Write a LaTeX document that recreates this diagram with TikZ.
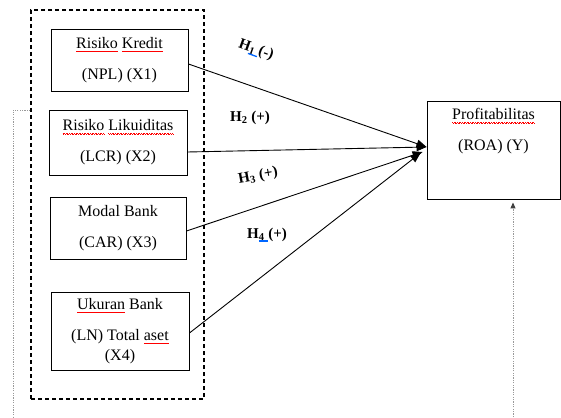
\documentclass[tikz,border=0pt]{standalone}
\usepackage{fontspec}
\setmainfont{Liberation Serif}
\usetikzlibrary{arrows.meta}
\newcommand\spellwave[1]{\setbox0\hbox{#1}\rlap{\copy0}\hbox to \wd0{\color{red}\xleaders\hbox{\rule[-3pt]{0.8pt}{0.5pt}\rule[-3.6pt]{0.8pt}{0.5pt}}\hfill}}
\newcommand\blueline[1]{\setbox0\hbox{#1}\rlap{\copy0}\textcolor{blue!60!cyan}{\rule[-3pt]{\wd0}{1.3pt}}}

\begin{document}
\begin{tikzpicture}[x=1pt,y=-1pt,
	box/.style={draw,line width=0.9pt,inner sep=0pt,align=center,font=\fontsize{16}{31}\selectfont},
	hyp/.style={font=\bfseries\fontsize{15}{18}\selectfont},
	hyparrow/.style={line width=0.9pt,-{Triangle[length=10pt,width=8pt]}},
	dotline/.style={gray!80,line width=1pt,dash pattern=on 1.2pt off 1.2pt}]
	\useasboundingbox (0,0) rectangle (561,417);
	\node[draw,line width=1.3pt,dash pattern=on 4pt off 3pt,minimum width=173pt,minimum height=389pt](grp) at (117.5,204.5){};
	\node[box,minimum width=137pt,minimum height=62pt](kredit) at (119.5,60){\spellwave{Risiko} \spellwave{Kredit}\\(NPL) (X1)};
	\node[box,minimum width=138pt,minimum height=65pt](likuid) at (118,142.5){\spellwave{Risiko} \spellwave{Likuiditas}\\(LCR) (X2)};
	\node[box,minimum width=136pt,minimum height=62pt](modal) at (118,228){Modal Bank\\(CAR) (X3)};
	\node[box,minimum width=138pt,minimum height=78pt](ukuran) at (120,331){\spellwave{Ukuran} Bank\\(LN) Total \spellwave{aset}\\[-11pt](X4)};
	\node[box,minimum width=133pt,minimum height=98pt](roa) at (493.5,150){\spellwave{Profitabilitas}\\(ROA) (Y)\\\strut};
	
	\draw[hyparrow] ([yshift=-4pt]kredit.east) -- ([yshift=3pt]roa.west);
	\draw[hyparrow] ([yshift=-9.5pt]likuid.east) -- ([yshift=3pt]roa.west);
	\draw[hyparrow] ([yshift=-3pt]modal.east) -- ([shift={(-4pt,-2pt)}]roa.west);
	\draw[hyparrow] ([yshift=-2pt]ukuran.east) -- ([shift={(-6pt,-3pt)}]roa.west);
	
	\node[hyp,rotate=-20](h1) at (256,50){H\blueline{\textsubscript{1}~}(-)};
	\node[hyp](h2) at (250,118){H\textsubscript{2} (+)};
	\node[hyp,rotate=10](h3) at (258,176){H\textsubscript{3} (+)};
	\node[hyp](h4) at (267,235){H\blueline{\textsubscript{4}~}(+)};
	
	\coordinate (lcorner) at (13,110);
	\coordinate (lend) at (13,417);
	\coordinate (rend) at (513,417);
	\draw[dotline] (lcorner -| grp.west) -- (lcorner) -- (lend);
	\draw[dotline,shorten >=3pt,-{Triangle[length=6pt,width=5pt,color=black!75]}] (rend) -- (rend |- roa.south);
\end{tikzpicture}
\end{document}
